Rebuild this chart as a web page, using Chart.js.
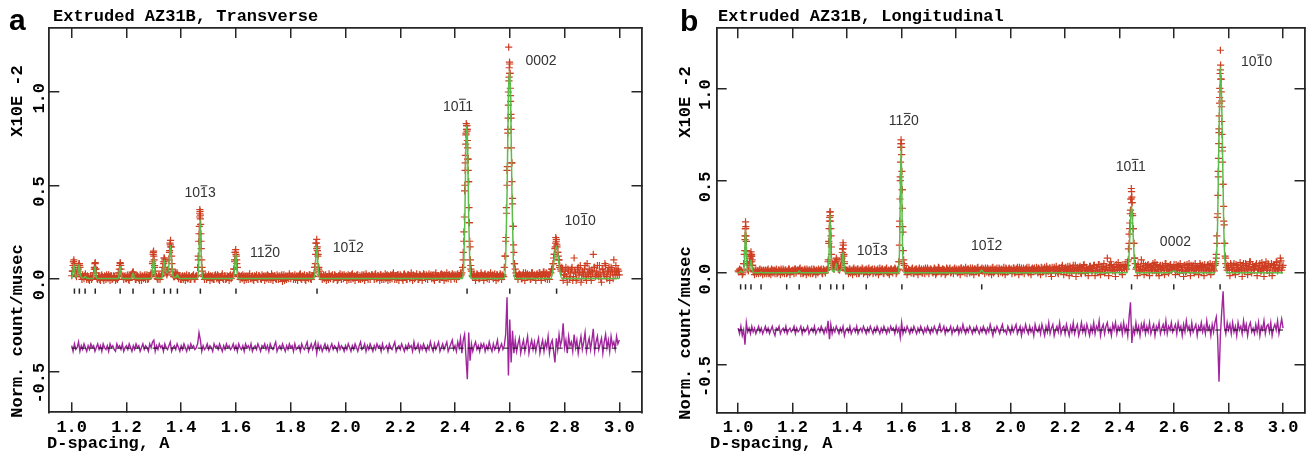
<!DOCTYPE html>
<html><head><meta charset="utf-8">
<script src="https://cdn.jsdelivr.net/npm/chart.js@4.4.1/dist/chart.umd.min.js"></script>
<style>
html,body{margin:0;padding:0;background:#fff;}
#wrap{position:relative;width:1310px;height:458px;overflow:hidden;background:#fff;}
#ca{position:absolute;left:0;top:0;width:650px;height:458px;}
#cb{position:absolute;left:650px;top:0;width:660px;height:458px;}
</style></head><body>
<div id="wrap"><canvas id="ca" width="650" height="458"></canvas><canvas id="cb" width="660" height="458"></canvas></div>
<script>
// ---------------- DATA ----------------
const xTickVals = [1.0,1.2,1.4,1.6,1.8,2.0,2.2,2.4,2.6,2.8,3.0];
const xTickLabels = ['1.0','1.2','1.4','1.6','1.8','2.0','2.2','2.4','2.6','2.8','3.0'];
const yTickVals = [-0.5,0.0,0.5,1.0];
const yTickLabels = ['-0.5','0.0','0.5','1.0'];

// D-spacing sampling grid (A)
const dGrid = [
1.000,1.005,1.010,1.015,1.020,1.025,1.030,1.035,1.040,1.045,1.050,1.055,1.060,1.065,1.070,1.075,1.080,1.085,1.090,1.095,
1.100,1.105,1.110,1.115,1.120,1.125,1.130,1.135,1.140,1.145,1.150,1.155,1.160,1.165,1.170,1.175,1.180,1.185,1.190,1.195,
1.200,1.205,1.210,1.215,1.220,1.225,1.230,1.235,1.240,1.245,1.250,1.255,1.260,1.265,1.270,1.275,1.280,1.285,1.290,1.295,
1.300,1.305,1.310,1.315,1.320,1.325,1.330,1.335,1.340,1.345,1.350,1.355,1.360,1.365,1.370,1.375,1.380,1.385,1.390,1.395,
1.400,1.405,1.410,1.415,1.420,1.425,1.430,1.435,1.440,1.445,1.450,1.455,1.460,1.465,1.470,1.475,1.480,1.485,1.490,1.495,
1.500,1.505,1.510,1.515,1.520,1.525,1.530,1.535,1.540,1.545,1.550,1.555,1.560,1.565,1.570,1.575,1.580,1.585,1.590,1.595,
1.600,1.605,1.610,1.615,1.620,1.625,1.630,1.635,1.640,1.645,1.650,1.655,1.660,1.665,1.670,1.675,1.680,1.685,1.690,1.695,
1.700,1.705,1.710,1.715,1.720,1.725,1.730,1.735,1.740,1.745,1.750,1.755,1.760,1.765,1.770,1.775,1.780,1.785,1.790,1.795,
1.800,1.805,1.810,1.815,1.820,1.825,1.830,1.835,1.840,1.845,1.850,1.855,1.860,1.865,1.870,1.875,1.880,1.885,1.890,1.895,
1.900,1.905,1.910,1.915,1.920,1.925,1.930,1.935,1.940,1.945,1.950,1.955,1.960,1.965,1.970,1.975,1.980,1.985,1.990,1.995,
2.000,2.005,2.010,2.015,2.020,2.025,2.030,2.035,2.040,2.045,2.050,2.055,2.060,2.065,2.070,2.075,2.080,2.085,2.090,2.095,
2.100,2.105,2.110,2.115,2.120,2.125,2.130,2.135,2.140,2.145,2.150,2.155,2.160,2.165,2.170,2.175,2.180,2.185,2.190,2.195,
2.200,2.205,2.210,2.215,2.220,2.225,2.230,2.235,2.240,2.245,2.250,2.255,2.260,2.265,2.270,2.275,2.280,2.285,2.290,2.295,
2.300,2.305,2.310,2.315,2.320,2.325,2.330,2.335,2.340,2.345,2.350,2.355,2.360,2.365,2.370,2.375,2.380,2.385,2.390,2.395,
2.400,2.405,2.410,2.415,2.420,2.425,2.430,2.435,2.440,2.445,2.450,2.455,2.460,2.465,2.470,2.475,2.480,2.485,2.490,2.495,
2.500,2.505,2.510,2.515,2.520,2.525,2.530,2.535,2.540,2.545,2.550,2.555,2.560,2.565,2.570,2.575,2.580,2.585,2.590,2.595,
2.600,2.605,2.610,2.615,2.620,2.625,2.630,2.635,2.640,2.645,2.650,2.655,2.660,2.665,2.670,2.675,2.680,2.685,2.690,2.695,
2.700,2.705,2.710,2.715,2.720,2.725,2.730,2.735,2.740,2.745,2.750,2.755,2.760,2.765,2.770,2.775,2.780,2.785,2.790,2.795,
2.800,2.805,2.810,2.815,2.820,2.825,2.830,2.835,2.840,2.845,2.850,2.855,2.860,2.865,2.870,2.875,2.880,2.885,2.890,2.895,
2.900,2.905,2.910,2.915,2.920,2.925,2.930,2.935,2.940,2.945,2.950,2.955,2.960,2.965,2.970,2.975,2.980,2.985,2.990,2.995,
3.000];
// interleaved second sampling grid (A)
const dGridMid = [
1.0025,1.0075,1.0125,1.0175,1.0225,1.0275,1.0325,1.0375,1.0425,1.0475,1.0525,1.0575,1.0625,1.0675,1.0725,1.0775,1.0825,1.0875,1.0925,1.0975,
1.1025,1.1075,1.1125,1.1175,1.1225,1.1275,1.1325,1.1375,1.1425,1.1475,1.1525,1.1575,1.1625,1.1675,1.1725,1.1775,1.1825,1.1875,1.1925,1.1975,
1.2025,1.2075,1.2125,1.2175,1.2225,1.2275,1.2325,1.2375,1.2425,1.2475,1.2525,1.2575,1.2625,1.2675,1.2725,1.2775,1.2825,1.2875,1.2925,1.2975,
1.3025,1.3075,1.3125,1.3175,1.3225,1.3275,1.3325,1.3375,1.3425,1.3475,1.3525,1.3575,1.3625,1.3675,1.3725,1.3775,1.3825,1.3875,1.3925,1.3975,
1.4025,1.4075,1.4125,1.4175,1.4225,1.4275,1.4325,1.4375,1.4425,1.4475,1.4525,1.4575,1.4625,1.4675,1.4725,1.4775,1.4825,1.4875,1.4925,1.4975,
1.5025,1.5075,1.5125,1.5175,1.5225,1.5275,1.5325,1.5375,1.5425,1.5475,1.5525,1.5575,1.5625,1.5675,1.5725,1.5775,1.5825,1.5875,1.5925,1.5975,
1.6025,1.6075,1.6125,1.6175,1.6225,1.6275,1.6325,1.6375,1.6425,1.6475,1.6525,1.6575,1.6625,1.6675,1.6725,1.6775,1.6825,1.6875,1.6925,1.6975,
1.7025,1.7075,1.7125,1.7175,1.7225,1.7275,1.7325,1.7375,1.7425,1.7475,1.7525,1.7575,1.7625,1.7675,1.7725,1.7775,1.7825,1.7875,1.7925,1.7975,
1.8025,1.8075,1.8125,1.8175,1.8225,1.8275,1.8325,1.8375,1.8425,1.8475,1.8525,1.8575,1.8625,1.8675,1.8725,1.8775,1.8825,1.8875,1.8925,1.8975,
1.9025,1.9075,1.9125,1.9175,1.9225,1.9275,1.9325,1.9375,1.9425,1.9475,1.9525,1.9575,1.9625,1.9675,1.9725,1.9775,1.9825,1.9875,1.9925,1.9975,
2.0025,2.0075,2.0125,2.0175,2.0225,2.0275,2.0325,2.0375,2.0425,2.0475,2.0525,2.0575,2.0625,2.0675,2.0725,2.0775,2.0825,2.0875,2.0925,2.0975,
2.1025,2.1075,2.1125,2.1175,2.1225,2.1275,2.1325,2.1375,2.1425,2.1475,2.1525,2.1575,2.1625,2.1675,2.1725,2.1775,2.1825,2.1875,2.1925,2.1975,
2.2025,2.2075,2.2125,2.2175,2.2225,2.2275,2.2325,2.2375,2.2425,2.2475,2.2525,2.2575,2.2625,2.2675,2.2725,2.2775,2.2825,2.2875,2.2925,2.2975,
2.3025,2.3075,2.3125,2.3175,2.3225,2.3275,2.3325,2.3375,2.3425,2.3475,2.3525,2.3575,2.3625,2.3675,2.3725,2.3775,2.3825,2.3875,2.3925,2.3975,
2.4025,2.4075,2.4125,2.4175,2.4225,2.4275,2.4325,2.4375,2.4425,2.4475,2.4525,2.4575,2.4625,2.4675,2.4725,2.4775,2.4825,2.4875,2.4925,2.4975,
2.5025,2.5075,2.5125,2.5175,2.5225,2.5275,2.5325,2.5375,2.5425,2.5475,2.5525,2.5575,2.5625,2.5675,2.5725,2.5775,2.5825,2.5875,2.5925,2.5975,
2.6025,2.6075,2.6125,2.6175,2.6225,2.6275,2.6325,2.6375,2.6425,2.6475,2.6525,2.6575,2.6625,2.6675,2.6725,2.6775,2.6825,2.6875,2.6925,2.6975,
2.7025,2.7075,2.7125,2.7175,2.7225,2.7275,2.7325,2.7375,2.7425,2.7475,2.7525,2.7575,2.7625,2.7675,2.7725,2.7775,2.7825,2.7875,2.7925,2.7975,
2.8025,2.8075,2.8125,2.8175,2.8225,2.8275,2.8325,2.8375,2.8425,2.8475,2.8525,2.8575,2.8625,2.8675,2.8725,2.8775,2.8825,2.8875,2.8925,2.8975,
2.9025,2.9075,2.9125,2.9175,2.9225,2.9275,2.9325,2.9375,2.9425,2.9475,2.9525,2.9575,2.9625,2.9675,2.9725,2.9775,2.9825,2.9875,2.9925,2.9975];

// ---- Panel a: Transverse ----
const obsA = [
.015,.07,.08,.02,.03,.07,.06,.01,.02,0,.025,-.005,.01,-.01,.015,.005,.03,.08,.03,-.005,
.01,-.01,.02,0,.015,-.005,.01,.02,-.01,.015,0,.01,-.01,.015,.03,.07,.05,.01,-.005,.015,
0,.02,-.01,.01,.025,.035,.01,-.005,.015,0,.02,-.01,.01,.015,-.005,.02,0,.01,.03,.08,
.12,.04,.01,-.005,.015,.01,.04,.09,.10,.03,.03,.10,.18,.12,.02,.01,.03,.03,0,.015,
-.005,.015,.01,-.01,.02,0,.015,-.005,.01,.02,-.005,.015,.06,.24,.32,.10,.02,-.005,.015,.01,
.02,-.01,.01,.015,-.005,.02,0,.015,-.01,.01,.025,-.005,.015,0,.01,-.01,.02,.01,.02,.09,
.13,.06,.01,-.005,.015,.02,-.01,.01,.015,-.005,.025,0,.015,-.01,.01,.02,-.005,.015,0,.02,
.01,-.01,.015,.02,-.005,.01,.025,-.01,.015,0,.02,-.005,.01,.015,-.015,.02,.01,-.005,.015,.025,
0,.015,-.005,.02,.01,-.01,.015,.025,-.005,.01,.02,-.01,.015,0,.02,-.005,.015,.03,.08,.16,
.13,.04,.01,-.005,.02,.015,-.01,.01,.025,0,.015,-.005,.02,.01,-.01,.015,.025,-.005,.015,.02,
.01,-.01,.02,.015,-.005,.025,.01,-.01,.015,.02,0,-.005,.02,.015,-.01,.025,.01,.015,-.005,.02,
.015,-.005,.025,0,.015,-.01,.02,.01,-.005,.025,.015,-.01,.01,.02,0,.03,-.005,.015,.02,-.01,
.02,.01,-.01,.025,.015,-.005,.02,0,.03,-.01,.015,.01,.025,-.005,.02,.015,-.01,.025,.01,.02,
-.005,.025,.015,0,.02,-.01,.03,.01,.015,-.005,.025,.02,-.01,.015,.03,0,.02,-.005,.025,.015,
.02,-.005,.025,.015,.03,.03,.14,.47,.77,.80,.52,.17,.04,.01,.02,-.01,.025,.015,0,.03,
.015,-.01,.025,.01,.02,-.005,.03,.015,0,.025,-.01,.02,.01,.025,-.005,.02,.06,.20,.58,1.00,
1.10,.86,.43,.14,.05,.015,-.005,.025,.02,0,.03,-.01,.02,.025,.01,-.005,.03,.015,.02,-.01,
.025,.01,.03,-.01,.02,.035,0,.025,.015,-.005,.03,.05,.11,.16,.20,.14,.10,.05,.06,-.01,
.02,.06,-.02,.04,.01,.05,-.01,.11,.03,0,.06,.03,-.02,.04,.02,.07,-.01,.03,.05,.01,
.04,.13,.06,.02,.07,.01,.03,-.02,.05,.02,.07,0,.04,-.01,.06,.03,.10,.02,.04,.05,
.02];
const obsA2 = [
.04,.09,.04,.01,.04,.08,.02,-.005,.01,.015,.01,.015,-.005,.01,-.005,.015,.05,.05,0,.015,
-.005,.015,.01,-.01,.01,.02,0,.01,.015,-.005,.015,.01,0,-.005,.015,.08,.02,.015,.01,0,
.015,-.005,.01,.015,.03,.02,-.005,.015,.01,-.01,.01,.015,0,.02,.01,-.005,.015,.02,.02,.13,
.07,.02,0,.015,-.005,.015,.06,.11,.06,.02,.05,.15,.17,.05,.01,.015,.02,.02,.01,-.005,
.01,-.005,.015,.01,0,.015,-.005,.01,.015,0,.01,.015,.10,.35,.20,.04,.01,.015,-.005,.01,
.01,.015,0,-.005,.015,.01,.02,-.005,.01,.015,0,.015,-.005,.015,.01,.015,0,.015,.05,.14,
.10,.02,.015,.01,0,.01,.015,-.005,.01,.015,0,.01,-.005,.015,.01,0,.015,.01,-.005,.01,
.015,.01,0,.015,.01,-.005,.015,.01,.015,-.005,.01,.015,0,.02,.01,-.01,.015,.01,0,.015,
.01,.015,.01,-.005,.015,.01,.02,0,.015,.01,-.005,.015,.01,.02,0,.015,.01,.06,.19,.15,
.06,.02,.015,.01,0,.02,.01,-.005,.015,.01,.02,0,.015,.01,-.005,.015,.01,.02,0,.01,
.015,.01,-.005,.015,.02,0,.015,.01,.02,-.005,.015,.01,0,.02,.01,.015,-.005,.015,.01,.02,
.01,.02,0,.015,.01,.02,-.005,.015,.01,0,.02,.015,-.005,.015,.02,.01,.015,-.005,.02,.01,
.015,0,.02,.01,-.005,.02,.015,.01,.015,.02,0,.015,.01,-.005,.02,.01,.015,.02,0,.015,
.015,.01,.02,.015,0,.02,.01,.015,-.005,.02,.01,.015,.02,0,.015,.02,.01,.015,.02,0,
.015,.02,.01,.015,.02,.06,.25,.62,.82,.64,.30,.07,.015,.02,.01,.015,.02,0,.015,.02,
.01,.02,.015,0,.02,.015,.01,.02,.015,.01,.02,0,.015,.02,.015,.01,.12,.38,.80,1.08,
.98,.62,.28,.08,.03,.01,.02,.015,0,.02,.015,.03,.01,.015,.02,0,.03,.015,.01,.02,
.015,.03,.01,.02,.035,.015,.03,-.005,.02,.035,.05,.08,.13,.19,.17,.12,.07,.04,.05,.02,
.04,.01,.05,0,.03,.06,.01,.04,-.01,.05,.02,.07,0,.03,.05,.01,.08,.02,.04,-.01,
.03,.06,.01,.04,.02,.07,0,.05,.03,.08,.01,.04,.06,.02,.05,0,.04,.07,.02,.04];
const obsPeakA = [
[1.003,.04],[1.006,.09],[1.008,.10],[1.011,.06],[1.024,.05],[1.027,.08],[1.029,.07],
[1.083,.06],[1.086,.085],[1.088,.05],[1.174,.05],[1.177,.085],[1.179,.07],[1.223,.035],
[1.296,.09],[1.298,.14],[1.299,.147],[1.301,.10],[1.303,.06],
[1.336,.08],[1.338,.11],[1.340,.09],[1.342,.05],
[1.357,.14],[1.359,.19],[1.361,.205],[1.363,.17],[1.366,.08],[1.368,.04],
[1.462,.12],[1.464,.20],[1.466,.28],[1.467,.33],[1.468,.37],[1.469,.36],[1.470,.34],[1.471,.29],[1.472,.24],[1.473,.16],[1.476,.06],
[1.593,.05],[1.595,.10],[1.597,.14],[1.599,.155],[1.601,.12],[1.603,.08],
[1.888,.06],[1.891,.13],[1.893,.19],[1.895,.21],[1.897,.17],[1.899,.12],[1.902,.05],
[2.430,.10],[2.432,.20],[2.434,.33],[2.436,.50],[2.437,.58],[2.438,.66],[2.439,.72],[2.440,.78],[2.441,.83],[2.442,.80],[2.443,.82],
[2.444,.79],[2.445,.74],[2.446,.70],[2.447,.64],[2.448,.58],[2.449,.52],[2.451,.38],[2.452,.30],[2.454,.20],[2.456,.10],[2.458,.05],
[2.584,.12],[2.586,.22],[2.588,.35],[2.590,.50],[2.591,.60],[2.592,.70],[2.593,.78],[2.594,.86],[2.595,.93],[2.596,1.24],[2.597,1.06],
[2.598,1.13],[2.599,1.16],[2.600,1.15],[2.601,1.10],[2.602,1.02],[2.603,.95],[2.604,.88],[2.605,.80],[2.606,.70],[2.607,.62],[2.608,.52],
[2.610,.40],[2.612,.28],[2.614,.18],[2.617,.08],
[2.760,.08],[2.763,.13],[2.766,.17],[2.768,.22],[2.770,.21],[2.772,.18],[2.775,.14],[2.778,.10],[2.782,.06]];
const calcA = [
[1.000,0],[1.004,.03],[1.008,.075],[1.012,.03],[1.017,.01],[1.022,.025],[1.027,.075],[1.031,.03],[1.036,.005],[1.044,.003],[1.050,.012],[1.055,.002],
[1.078,0],[1.081,.02],[1.085,.066],[1.089,.02],[1.093,0],
[1.170,0],[1.173,.02],[1.177,.066],[1.181,.02],[1.185,0],
[1.217,0],[1.220,.01],[1.224,.03],[1.228,.01],[1.232,0],
[1.290,0],[1.294,.03],[1.299,.11],[1.304,.03],[1.308,.003],
[1.329,.002],[1.333,.03],[1.338,.10],[1.343,.04],[1.349,.03],[1.355,.07],[1.361,.177],[1.366,.06],[1.371,.012],[1.378,.005],[1.382,.01],[1.386,.02],[1.390,.008],[1.395,0],
[1.460,0],[1.464,.08],[1.469,.317],[1.474,.08],[1.478,0],
[1.589,0],[1.594,.035],[1.599,.138],[1.604,.035],[1.609,0],
[1.883,0],[1.889,.04],[1.895,.174],[1.901,.04],[1.907,0],
[2.426,0],[2.432,.08],[2.436,.33],[2.440,.72],[2.443,.819],[2.446,.72],[2.450,.33],[2.454,.08],[2.460,0],
[2.579,0],[2.585,.10],[2.590,.45],[2.595,.98],[2.599,1.115],[2.603,.98],[2.608,.45],[2.613,.10],[2.619,0],
[2.750,0],[2.757,.04],[2.764,.13],[2.770,.174],[2.776,.13],[2.783,.04],[2.790,0],
[3.000,0]];
const diffA = [
-.36,-.39,-.35,-.38,-.37,-.34,-.39,-.36,-.38,-.35,-.37,-.39,-.36,-.38,-.35,-.37,-.36,-.39,-.37,-.35,
-.38,-.36,-.39,-.35,-.37,-.38,-.36,-.39,-.35,-.37,-.36,-.38,-.39,-.35,-.37,-.36,-.38,-.35,-.39,-.37,
-.36,-.38,-.35,-.37,-.39,-.36,-.38,-.35,-.37,-.36,-.39,-.37,-.35,-.38,-.36,-.37,-.39,-.35,-.37,-.34,
-.33,-.39,-.36,-.38,-.35,-.37,-.36,-.39,-.35,-.37,-.38,-.36,-.34,-.39,-.37,-.36,-.38,-.35,-.37,-.39,
-.36,-.38,-.35,-.37,-.39,-.36,-.38,-.35,-.37,-.36,-.38,-.37,-.35,-.29,-.33,-.39,-.36,-.38,-.37,-.35,
-.38,-.36,-.37,-.39,-.35,-.37,-.36,-.38,-.35,-.37,-.39,-.36,-.38,-.35,-.37,-.36,-.38,-.37,-.35,-.38,
-.36,-.39,-.35,-.37,-.38,-.36,-.39,-.35,-.37,-.36,-.38,-.35,-.39,-.37,-.36,-.38,-.35,-.37,-.39,-.36,
-.37,-.35,-.38,-.36,-.39,-.35,-.37,-.38,-.36,-.34,-.39,-.37,-.36,-.38,-.35,-.37,-.39,-.36,-.38,-.35,
-.37,-.36,-.39,-.35,-.38,-.37,-.36,-.39,-.35,-.37,-.38,-.36,-.34,-.39,-.37,-.35,-.38,-.36,-.34,-.40,
-.35,-.38,-.36,-.39,-.37,-.35,-.38,-.36,-.39,-.37,-.35,-.38,-.36,-.37,-.39,-.35,-.38,-.36,-.37,-.39,
-.36,-.38,-.35,-.37,-.39,-.36,-.38,-.35,-.37,-.39,-.36,-.34,-.38,-.37,-.35,-.39,-.36,-.38,-.35,-.37,
-.39,-.36,-.38,-.35,-.37,-.36,-.39,-.35,-.38,-.37,-.36,-.39,-.35,-.37,-.38,-.36,-.34,-.39,-.37,-.36,
-.38,-.35,-.37,-.39,-.36,-.38,-.35,-.37,-.36,-.39,-.34,-.38,-.37,-.35,-.39,-.36,-.38,-.35,-.37,-.39,
-.36,-.38,-.34,-.37,-.39,-.35,-.38,-.36,-.34,-.39,-.37,-.35,-.38,-.36,-.34,-.39,-.37,-.35,-.33,-.38,
-.36,-.39,-.34,-.37,-.32,-.40,-.33,-.30,-.42,-.54,-.29,-.44,-.35,-.39,-.36,-.34,-.38,-.36,-.39,-.35,
-.37,-.35,-.39,-.36,-.38,-.34,-.37,-.39,-.35,-.38,-.36,-.33,-.39,-.37,-.35,-.38,-.36,-.30,-.10,-.52,
-.22,-.45,-.28,-.40,-.33,-.39,-.35,-.32,-.40,-.36,-.33,-.39,-.35,-.31,-.40,-.36,-.33,-.38,-.34,-.39,
-.35,-.32,-.40,-.36,-.33,-.39,-.34,-.37,-.31,-.40,-.35,-.33,-.39,-.45,-.32,-.38,-.30,-.36,-.33,-.24,
-.37,-.33,-.40,-.31,-.36,-.34,-.39,-.30,-.37,-.33,-.40,-.35,-.31,-.38,-.34,-.29,-.39,-.35,-.32,-.38,
-.33,-.27,-.39,-.34,-.31,-.38,-.35,-.32,-.40,-.34,-.30,-.37,-.33,-.39,-.31,-.36,-.34,-.38,-.31,-.35,
-.33];
const diffBaseA = [[1.0,-0.373],[3.0,-0.373]];
const reflA = [1.010,1.028,1.049,1.086,1.177,1.224,1.299,1.338,1.361,1.386,1.470,1.600,1.896,2.444,2.600,2.771];
const reflLevelA = -0.067;
const hklA = ['1013','1120','1012','1011','0002','1010'];
const hklA_d = [1.469,1.706,2.010,2.411,2.714,2.857];
const hklA_y = [0.457,0.138,0.165,0.921,1.168,0.308];

// ---- Panel b: Longitudinal ----
const obsB = [
.01,.02,.015,-.01,.05,.20,.17,.02,.04,.08,.06,.01,-.01,.015,.01,-.005,.02,.015,-.01,.01,
.015,-.005,.02,0,-.01,.015,.01,-.005,.02,0,.015,-.01,.01,.02,-.005,.015,0,.02,-.01,.01,
.015,-.005,.02,.01,.015,.02,-.005,.015,0,.02,-.01,.01,.015,-.005,.02,0,.015,-.01,.01,.02,
.01,.02,-.005,.015,0,.015,.06,.28,.24,.05,.04,.06,.08,.03,.02,.04,.07,.13,.05,.01,
.015,-.005,.02,.01,-.01,.025,.015,-.005,.02,0,.015,.025,-.005,.015,.02,-.01,.025,.01,.015,-.005,
.02,0,.015,-.01,.025,.01,.02,-.005,.015,.025,0,-.01,.02,.01,.015,.025,-.005,.015,.06,.52,
.68,.22,.04,.01,-.01,.02,.015,0,.025,-.005,.015,.02,-.01,.025,.01,0,.02,-.005,.015,.025,
-.005,.02,.015,0,.025,-.01,.015,.03,.01,-.005,.02,.015,-.01,.025,.01,.02,0,.015,-.005,.025,
.015,0,.02,-.01,.025,.01,.015,.03,-.005,.02,0,.015,.025,-.01,.02,.01,.03,0,.015,.025,
.02,-.005,.015,.025,0,.02,-.01,.03,.01,.015,.025,-.005,.02,.015,0,.03,-.01,.02,.01,.025,
.015,-.005,.025,0,.02,.03,-.01,.015,.025,.01,-.005,.02,.03,0,.015,-.01,.025,.02,.01,.03,
0,.02,-.01,.025,.015,.03,-.005,.02,.01,.025,-.02,.015,.03,0,.02,-.005,.025,.015,.04,-.01,
.02,.01,.035,-.015,.025,0,.04,.015,-.02,.03,.01,.035,-.005,.02,.045,0,.015,-.015,.035,.02,
.01,.04,-.015,.03,.015,.045,-.01,.02,.035,0,.03,.08,-.015,.02,.045,.01,.035,-.02,.03,.055,
.015,.04,-.01,.03,.045,.02,.06,.21,.34,.38,.24,.08,.02,-.015,.035,.01,.07,.02,-.01,.04,
.015,.045,-.015,.03,.01,.04,.055,0,.02,-.015,.04,.015,.03,-.01,.05,.02,0,.04,.015,.03,
.045,-.01,.02,.04,0,.03,.015,-.02,.04,.01,.03,.05,-.015,.02,.04,0,.015,.03,-.01,.05,
.02,.04,-.015,.03,.01,.045,.015,-.01,.04,.02,.04,.08,.32,.76,1.10,.93,.48,.16,.05,.015,
.03,-.015,.04,.015,.05,-.01,.02,.04,.01,.03,-.02,.05,.015,.04,-.01,.02,.06,0,.03,.015,
.04,-.015,.02,.05,.01,.03,-.02,.04,.015,.05,0,.03,-.015,.04,.02,.06,.01,.03,.08,.015,
.04];
const obsB2 = [
.005,.015,.01,0,.10,.24,.06,.01,.06,.09,.04,.005,.015,-.005,.01,.015,0,.01,.015,-.005,
.01,.015,-.005,.01,.02,0,.015,.01,-.005,.015,.01,.02,0,.01,.015,-.005,.01,.02,.005,.01,
.01,.02,0,.015,.01,.025,.01,-.005,.015,.01,.02,0,.015,.01,-.005,.02,.01,.015,0,.01,
.015,0,.02,.01,.015,.02,.17,.33,.10,.03,.02,.05,.06,.02,.015,.03,.11,.09,.02,.015,
.01,.02,0,.015,.02,.005,.015,.02,-.005,.015,.01,.02,.005,.015,.01,.02,0,.015,.02,.005,
.015,.01,.02,.005,.01,.02,0,.015,.02,.005,.015,.01,.02,0,.015,.02,.005,.02,.25,.70,
.45,.07,.015,.02,.005,.015,.01,.02,0,.015,.02,.005,.015,.01,.02,0,.015,.025,.005,.015,
.01,.02,.005,.015,.02,0,.015,.025,.01,.005,.02,.015,0,.02,.01,.025,.005,.015,.02,.01,
.02,.005,.015,.025,.01,.02,0,.015,.02,.01,.025,.005,.015,.02,.01,.025,0,.015,.02,.01,
.015,.025,.005,.02,.01,.015,.025,0,.02,.015,.01,.025,.005,.02,.015,.01,.025,.005,.02,.015,
.02,.01,.025,.005,.02,.015,.03,.01,.005,.025,.015,.02,.01,.03,.005,.02,.015,.025,.01,.02,
.025,.01,.03,.005,.02,.015,.035,.01,.025,0,.03,.015,.02,.035,.005,.025,.01,.03,.02,.015,
.03,.01,.02,.035,.005,.025,.015,.04,.01,.02,.03,0,.025,.04,.01,.03,.015,.02,.035,.01,
.025,.04,.01,.03,.045,.005,.035,.02,.05,.01,.03,.015,.04,.06,.02,.03,.01,.045,.02,.035,
.03,.015,.045,.02,.035,.04,.13,.27,.40,.32,.16,.05,.03,.045,.01,.035,.02,.05,.015,.03,
.04,.01,.035,.02,.05,.015,.03,.045,.005,.035,.02,.04,.015,.05,.025,.035,.01,.045,.02,.03,
.02,.045,.01,.035,.05,.015,.03,.04,.005,.045,.025,.015,.04,.03,.01,.05,.025,.035,.015,.04,
.035,.01,.045,.02,.04,.015,.05,.025,.035,.01,.06,.16,.52,.95,1.05,.66,.28,.09,.03,.04,
.015,.05,.02,.04,.005,.045,.03,.015,.055,.02,.04,.01,.05,.025,.035,.06,.015,.045,.02,.035,
.05,.02,.04,.01,.055,.025,.035,.06,.015,.04,.03,.05,.01,.045,.025,.055,.02,.04,.065,.03];
const obsPeakB = [
[1.022,.05],[1.024,.12],[1.025,.18],[1.026,.24],[1.027,.276],[1.028,.25],[1.029,.20],[1.031,.12],[1.033,.05],
[1.043,.06],[1.044,.10],[1.045,.09],[1.047,.114],[1.049,.10],[1.050,.09],[1.051,.07],[1.053,.04],
[1.331,.07],[1.333,.16],[1.334,.24],[1.336,.30],[1.337,.33],[1.338,.31],[1.339,.28],[1.341,.20],[1.342,.14],[1.344,.06],
[1.357,.06],[1.362,.07],[1.366,.04],
[1.381,.08],[1.383,.13],[1.385,.163],[1.386,.15],[1.388,.10],[1.390,.06],
[1.590,.06],[1.592,.15],[1.593,.28],[1.594,.40],[1.595,.50],[1.596,.60],[1.597,.68],[1.598,.72],[1.599,.70],[1.600,.64],
[1.601,.55],[1.602,.45],[1.603,.35],[1.604,.25],[1.606,.12],[1.608,.05],
[2.432,.07],[2.435,.16],[2.437,.24],[2.439,.32],[2.441,.40],[2.443,.457],[2.444,.44],[2.445,.41],[2.446,.38],[2.448,.31],[2.450,.24],[2.452,.16],[2.455,.08],
[2.752,.05],[2.755,.10],[2.757,.20],[2.759,.30],[2.761,.42],[2.762,.55],[2.763,.62],[2.764,.70],[2.765,.78],[2.766,.85],[2.767,.92],
[2.768,1.00],[2.769,1.08],[2.770,1.206],[2.771,1.125],[2.772,1.05],[2.773,.98],[2.774,.90],[2.775,.82],[2.776,.75],[2.777,.68],[2.778,.60],
[2.780,.48],[2.782,.36],[2.784,.26],[2.786,.16],[2.789,.08]];
const calcB = [
[1.000,0],[1.005,.003],[1.009,.01],[1.013,.003],[1.019,.005],[1.023,.06],[1.027,.24],[1.031,.06],[1.036,.01],[1.042,.02],[1.047,.069],[1.052,.02],[1.057,.002],
[1.080,0],[1.084,.005],[1.088,0],
[1.218,0],[1.224,.01],[1.230,0],
[1.329,0],[1.333,.08],[1.337,.32],[1.341,.08],[1.346,.01],[1.352,.005],[1.356,.02],[1.360,.05],[1.364,.02],[1.369,.008],[1.375,.01],[1.380,.03],[1.385,.114],[1.390,.03],[1.395,0],
[1.588,0],[1.593,.17],[1.598,.692],[1.603,.17],[1.608,0],
[1.886,0],[1.894,.015],[1.902,0],
[2.427,0],[2.433,.05],[2.438,.20],[2.444,.367],[2.450,.20],[2.455,.05],[2.461,0],
[2.585,0],[2.599,.01],[2.613,0],
[2.749,0],[2.755,.06],[2.760,.28],[2.765,.75],[2.771,1.116],[2.777,.75],[2.782,.28],[2.787,.06],[2.793,0],
[3.000,0]];
const diffB = [
-.30,-.33,-.29,-.34,-.31,-.39,-.27,-.32,-.30,-.33,-.29,-.32,-.30,-.33,-.31,-.29,-.32,-.30,-.33,-.31,
-.29,-.32,-.30,-.33,-.31,-.29,-.32,-.34,-.30,-.31,-.29,-.33,-.31,-.30,-.32,-.29,-.33,-.31,-.30,-.32,
-.31,-.29,-.33,-.30,-.32,-.31,-.29,-.33,-.30,-.32,-.31,-.29,-.33,-.31,-.30,-.32,-.29,-.33,-.31,-.30,
-.32,-.29,-.31,-.33,-.30,-.32,-.26,-.36,-.28,-.33,-.30,-.32,-.29,-.31,-.33,-.30,-.32,-.29,-.34,-.31,
-.30,-.32,-.29,-.33,-.31,-.30,-.32,-.29,-.33,-.31,-.30,-.32,-.29,-.31,-.33,-.30,-.32,-.29,-.31,-.33,
-.30,-.32,-.29,-.31,-.33,-.30,-.32,-.29,-.31,-.33,-.30,-.32,-.29,-.31,-.30,-.33,-.29,-.32,-.30,-.35,
-.27,-.33,-.30,-.32,-.29,-.31,-.33,-.30,-.32,-.29,-.31,-.33,-.30,-.32,-.29,-.31,-.33,-.30,-.32,-.29,
-.31,-.33,-.30,-.32,-.29,-.31,-.33,-.30,-.28,-.32,-.31,-.29,-.33,-.30,-.32,-.31,-.29,-.33,-.30,-.32,
-.31,-.29,-.33,-.30,-.32,-.28,-.31,-.33,-.30,-.32,-.29,-.31,-.33,-.30,-.32,-.29,-.31,-.33,-.30,-.32,
-.29,-.31,-.33,-.30,-.32,-.28,-.31,-.34,-.30,-.32,-.29,-.31,-.33,-.30,-.28,-.32,-.31,-.33,-.29,-.31,
-.33,-.29,-.32,-.30,-.28,-.33,-.31,-.29,-.34,-.30,-.32,-.28,-.31,-.33,-.29,-.32,-.30,-.34,-.28,-.31,
-.32,-.29,-.33,-.28,-.31,-.34,-.29,-.32,-.27,-.33,-.30,-.28,-.34,-.31,-.29,-.32,-.27,-.33,-.30,-.29,
-.33,-.28,-.31,-.34,-.29,-.32,-.27,-.33,-.30,-.28,-.34,-.31,-.27,-.32,-.29,-.33,-.28,-.31,-.34,-.29,
-.32,-.27,-.33,-.29,-.31,-.26,-.34,-.30,-.28,-.33,-.29,-.27,-.32,-.30,-.34,-.28,-.31,-.27,-.33,-.29,
-.31,-.28,-.33,-.27,-.32,-.29,-.34,-.24,-.16,-.38,-.30,-.33,-.27,-.32,-.29,-.34,-.28,-.31,-.27,-.33,
-.29,-.32,-.27,-.33,-.30,-.28,-.34,-.29,-.31,-.27,-.33,-.30,-.28,-.32,-.26,-.33,-.29,-.31,-.27,-.32,
-.30,-.28,-.33,-.27,-.31,-.29,-.34,-.28,-.32,-.26,-.31,-.29,-.33,-.27,-.32,-.30,-.28,-.34,-.29,-.31,
-.27,-.32,-.29,-.33,-.26,-.31,-.29,-.34,-.28,-.32,-.27,-.24,-.35,-.59,-.34,-.21,-.10,-.29,-.33,-.27,
-.31,-.28,-.33,-.27,-.32,-.29,-.34,-.27,-.31,-.29,-.33,-.26,-.31,-.28,-.34,-.29,-.27,-.32,-.30,-.33,
-.28,-.32,-.27,-.34,-.29,-.31,-.26,-.33,-.29,-.28,-.32,-.27,-.34,-.30,-.28,-.31,-.26,-.33,-.29,-.25,
-.30];
const diffBaseB = [[1.0,-0.31],[3.0,-0.31]];
const reflB = [1.009,1.027,1.047,1.084,1.178,1.224,1.301,1.340,1.362,1.386,1.470,1.601,1.894,2.444,2.599,2.769];
const reflLevelB = -0.076;
const hklB = ['1120','1013','1012','1011','0002','1010'];
const hklB_d = [1.608,1.492,1.912,2.441,2.605,2.903];
const hklB_y = [0.823,0.119,0.146,0.574,0.168,1.140];
const hklBar = [2,2,2,2,-1,2];

// ---------------- RENDER ----------------
const RED='rgb(206,62,34)', GREEN='rgb(92,188,72)', MAG='rgb(160,36,156)', INK='#262626';
const MONO='"Liberation Mono", "Courier New", monospace';
const SANS='"Liberation Sans", Arial, sans-serif';

function pts(xs, ys){ return xs.map((x,i)=>({x:x, y:ys[i]})); }
function pairs(a){ return a.map(p=>({x:p[0], y:p[1]})); }

function textPlugin(c){
  return { id:'txt', afterDraw(chart){
    const ctx=chart.ctx, xs=chart.scales.x, ys=chart.scales.y;
    ctx.save();
    ctx.fillStyle='#000';
    ctx.textAlign='left'; ctx.textBaseline='alphabetic';
    ctx.font='bold 30px '+SANS;
    ctx.fillText(c.letter, c.letterX, c.letterY);
    ctx.font='bold 17px '+MONO;
    ctx.fillText(c.title, c.titleX, 21);
    ctx.fillText('D-spacing, A', c.xTitleX, 448);
    ctx.textAlign='center';
    xTickVals.forEach((v,i)=>ctx.fillText(xTickLabels[i], xs.getPixelForValue(v), 432));
    yTickVals.forEach((v,i)=>{
      const py=ys.getPixelForValue(v);
      ctx.save(); ctx.translate(c.yLabX, py-9); ctx.rotate(-Math.PI/2);
      ctx.textAlign='right'; ctx.textBaseline='middle';
      ctx.fillText(yTickLabels[i],0,0); ctx.restore();
    });
    [[c.unit, c.unitY],['Norm. count/musec', c.ytY]].forEach(t=>{
      ctx.save(); ctx.translate(c.ytX, t[1]); ctx.rotate(-Math.PI/2);
      ctx.textAlign='center'; ctx.textBaseline='middle';
      ctx.fillText(t[0],0,0); ctx.restore();
    });
    // peak (hkl) labels
    ctx.font='14px '+SANS; ctx.fillStyle='#333'; ctx.strokeStyle='#333'; ctx.lineWidth=1;
    ctx.textAlign='left'; ctx.textBaseline='middle';
    c.hkl.forEach((t,i)=>{
      const px=xs.getPixelForValue(c.hd[i]), py=ys.getPixelForValue(c.hy[i]);
      const w=ctx.measureText(t).width, x0=px-w/2;
      ctx.fillText(t, x0, py);
      const b=hklBar[i];
      if(b>=0){
        const a=ctx.measureText(t.slice(0,b)).width, cw=ctx.measureText(t[b]).width;
        ctx.beginPath(); ctx.moveTo(x0+a+0.5, py-7.5); ctx.lineTo(x0+a+cw-0.5, py-7.5); ctx.stroke();
      }
    });
    ctx.restore();
  }};
}

function makeChart(id, o){
  const axisCommon = (pos)=>({
    type:'linear', position:pos, min:(pos==='top'||pos==='bottom')?o.xmin:o.ymin, max:(pos==='top'||pos==='bottom')?o.xmax:o.ymax,
    afterBuildTicks(s){ s.ticks=((pos==='top'||pos==='bottom')?xTickVals:yTickVals).map(v=>({value:v})); },
    afterFit(s){ if(pos==='top'||pos==='bottom') s.height=0; else s.width=0; },
    grid:{display:true, drawOnChartArea:false, drawTicks:true, tickLength:-10, color:INK, lineWidth:1.5},
    border:{display:true, color:INK, width:1.8},
    ticks:{display:false}
  });
  const scales={ x:axisCommon('bottom'), x2:Object.assign(axisCommon('top'),{axis:'x'}), y:axisCommon('left'), y2:Object.assign(axisCommon('right'),{axis:'y'}) };
  const obsData = pts(dGrid,o.obs).concat(pts(dGridMid,o.obs2)).concat(pairs(o.obsPk));
  return new Chart(document.getElementById(id), {
    type:'scatter',
    data:{ datasets:[
      {label:'base', data:pairs(o.base), showLine:true, pointRadius:0, borderColor:'#111', borderWidth:1, borderDash:[5,4], order:0},
      {label:'calc', data:pairs(o.calc), showLine:true, pointRadius:0, borderColor:GREEN, borderWidth:1.5, cubicInterpolationMode:'monotone', order:1},
      {label:'diff', data:pts(dGrid,o.diff), showLine:true, pointRadius:0, borderColor:MAG, borderWidth:1.4, order:2},
      {label:'obs', data:obsData, showLine:false, pointStyle:'cross', pointRadius:3.6, borderColor:RED, backgroundColor:RED, borderWidth:1.2, order:3},
      {label:'refl', data:o.refl.map(d=>({x:d,y:o.reflY})), showLine:false, pointStyle:'line', rotation:90, pointRadius:2.6, borderColor:INK, borderWidth:1.5, order:4}
    ]},
    options:{
      responsive:false, animation:false, events:[], devicePixelRatio:1,
      layout:{padding:o.pad},
      plugins:{legend:{display:false}, tooltip:{enabled:false}, title:{display:false}},
      scales
    },
    plugins:[textPlugin(o.text)]
  });
}

makeChart('ca', {
  xmin:0.9182, xmax:3.0811, ymin:-0.717, ymax:1.343,
  pad:{left:49.3, top:28, right:8.5, bottom:45.7},
  obs:obsA, obs2:obsA2, obsPk:obsPeakA, calc:calcA, diff:diffA, base:diffBaseA, refl:reflA, reflY:reflLevelA,
  text:{letter:'a', letterX:9, letterY:30, title:'Extruded AZ31B, Transverse', titleX:53, xTitleX:47,
        yLabX:40, ytX:18, unit:'X10E -2', unitY:101, ytY:331, hkl:hklA, hd:hklA_d, hy:hklA_y}
});
makeChart('cb', {
  xmin:0.9212, xmax:3.0788, ymin:-0.758, ymax:1.325,
  pad:{left:66.7, top:28.3, right:1.7, bottom:45.3},
  obs:obsB, obs2:obsB2, obsPk:obsPeakB, calc:calcB, diff:diffB, base:diffBaseB, refl:reflB, reflY:reflLevelB,
  text:{letter:'b', letterX:30, letterY:31, title:'Extruded AZ31B, Longitudinal', titleX:68, xTitleX:60,
        yLabX:56, ytX:36, unit:'X10E -2', unitY:102, ytY:333, hkl:hklB, hd:hklB_d, hy:hklB_y}
});
</script>
</body></html>
